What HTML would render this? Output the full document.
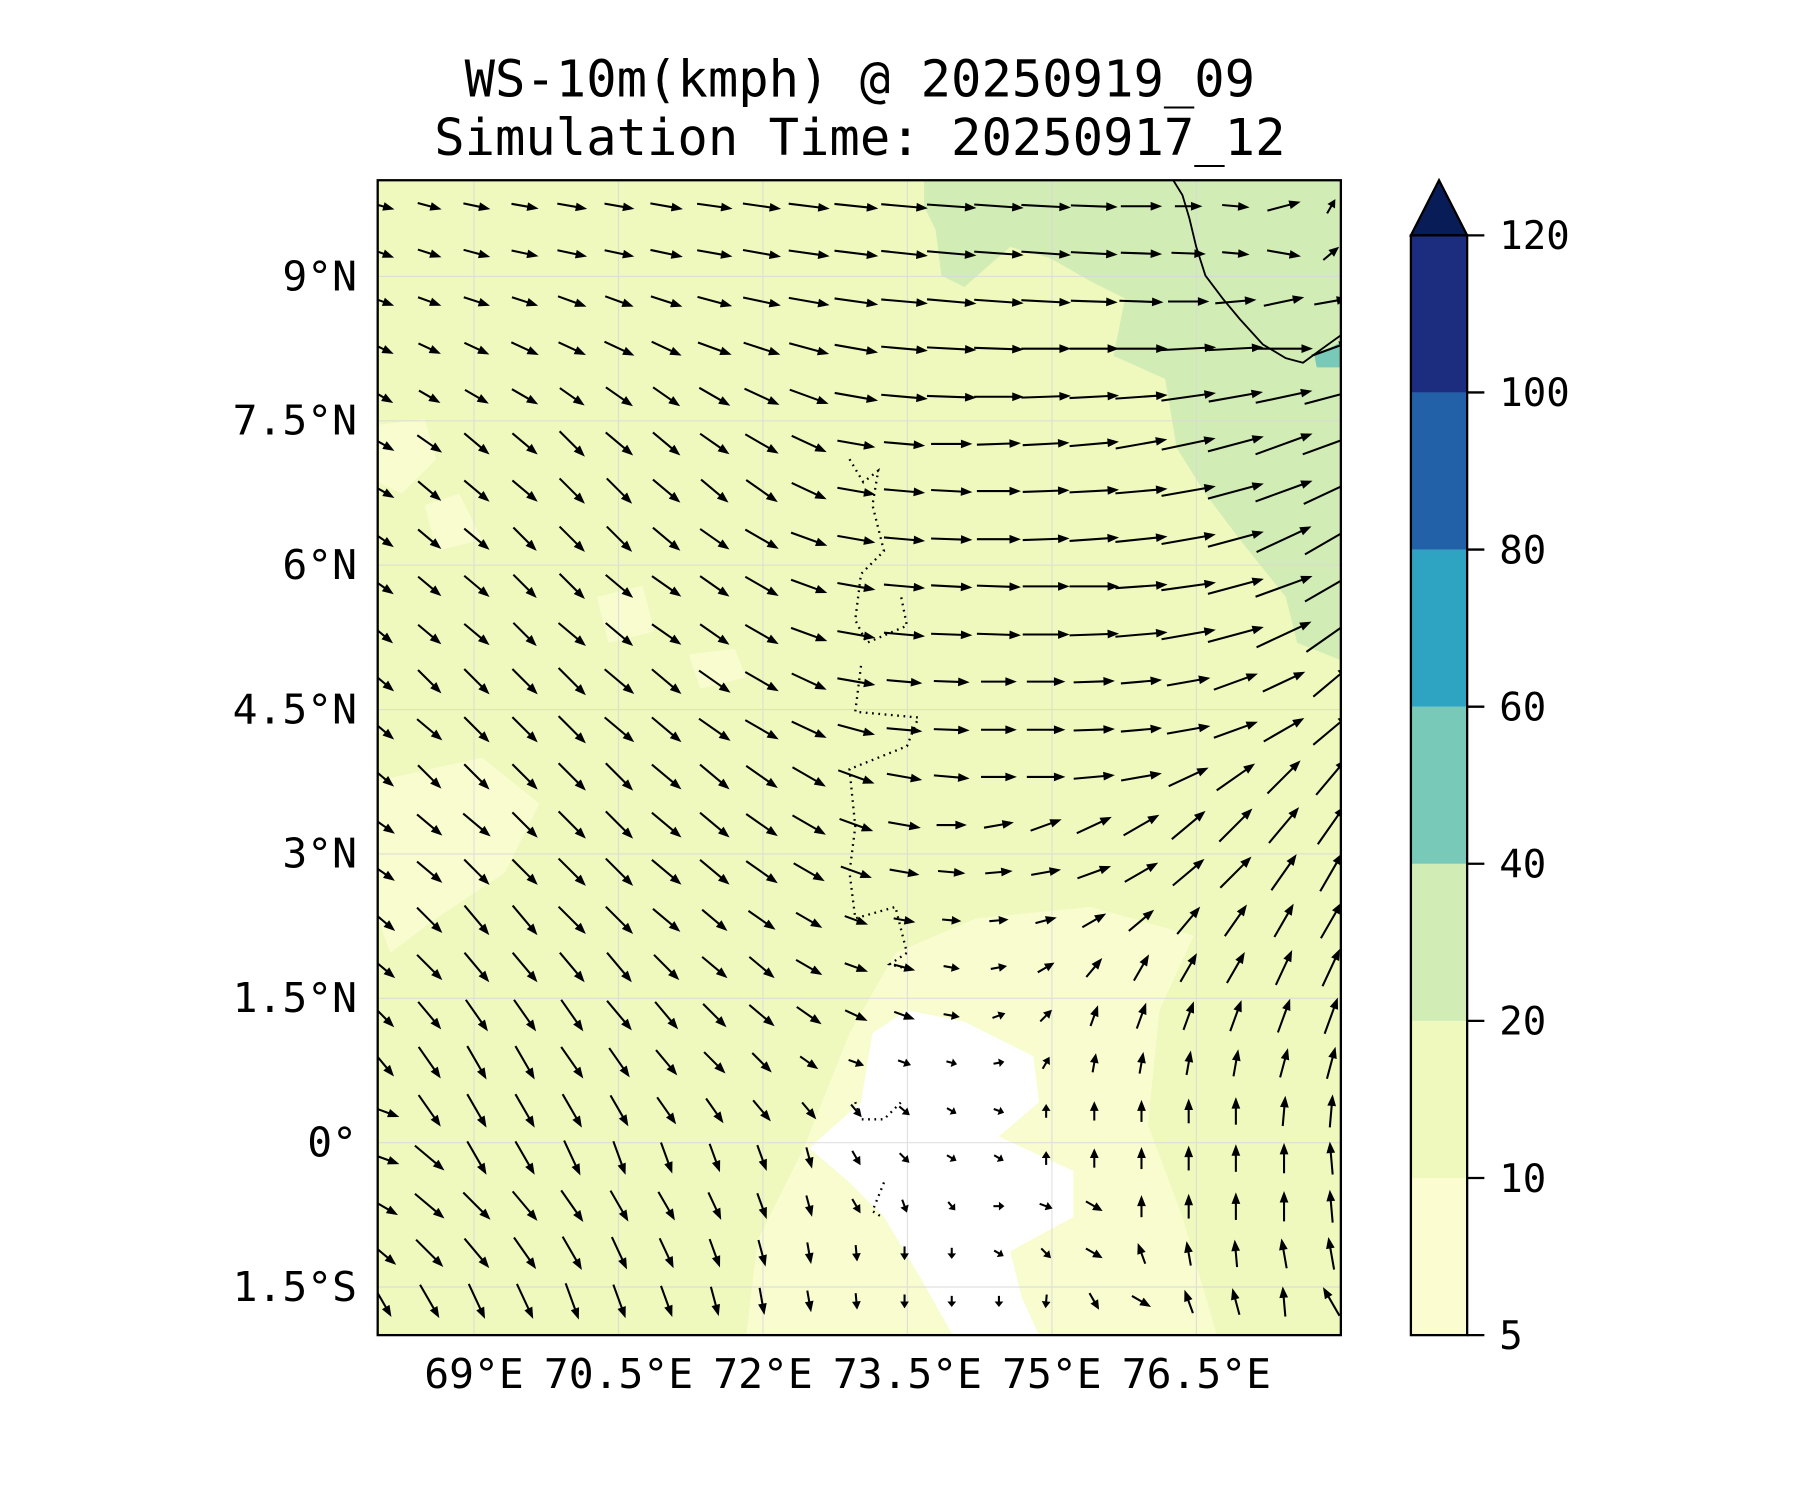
<!DOCTYPE html>
<html><head><meta charset="utf-8">
<style>
html,body{margin:0;padding:0;background:#fff;}
svg{display:block;}
text{font-family:"DejaVu Sans Mono","Liberation Mono",monospace;fill:#000;}
</style></head>
<body>
<svg id="chart" width="1800" height="1500" viewBox="0 0 1800 1500" xmlns="http://www.w3.org/2000/svg">
<g transform="scale(1.148)">
  <text x="749" y="84" font-size="44" text-anchor="middle">WS-10m(kmph) @ 20250919_09</text>
  <text x="749" y="135" font-size="44" text-anchor="middle">Simulation Time: 20250917_12</text>
  <defs><clipPath id="plotclip"><rect x="329" y="157" width="839" height="1006"/></clipPath></defs>
  <g id="plot" clip-path="url(#plotclip)">
    <rect x="329" y="157" width="839" height="1006" fill="#eff8bd"/>
    <path fill="#d2ecb5" d="M805,157 L1168,157 L1168,575 L1130,560 L1120,520 L1080,470 L1050,430 L1025,390 L1015,330 L970,310 L980,260 L950,245 L915,225 L880,215 L840,250 L820,240 L815,200 L805,180 Z"/>
    <path fill="#f8fccf" d="M329,370 L370,365 L380,400 L350,430 L329,420 Z M370,440 L400,430 L420,470 L380,480 Z M329,680 L420,660 L470,700 L440,760 L380,800 L340,830 L329,800 Z M520,520 L560,510 L570,550 L530,560 Z M600,570 L640,565 L650,590 L610,600 Z"/>
    <path fill="#f8fccf" d="M650,1163 L660,1080 L700,1000 L740,900 L780,830 L850,800 L950,790 L1040,815 L1010,880 L1000,980 L1030,1060 L1060,1163 Z"/>
    <path fill="#ffffff" d="M705,1000 L750,960 L760,900 L790,880 L840,890 L900,920 L905,960 L870,990 L935,1020 L935,1060 L880,1090 L890,1130 L905,1163 L830,1163 L800,1110 L770,1060 L740,1030 Z"/>
    <path fill="#79c9b9" d="M1145,310 L1168,298 L1168,320 L1147,320 Z"/>
    <g id="grid" stroke="#d9d9d9" stroke-width="1" opacity="0.8"></g>
    <path fill="none" stroke="#000" stroke-width="1.6" d="M1022,157 L1030,170 L1036,190 L1042,215 L1050,240 L1065,260 L1080,278 L1100,300 L1120,312 L1135,316 L1150,305 L1168,292"/>
    <path fill="none" stroke="#000" stroke-width="2" stroke-dasharray="1.5 4" d="M740,400 L752,420 L765,410 L760,440 L770,480 L750,500 L745,540 L755,560 L790,545 L785,520 M750,580 L745,620 L800,625 L790,650 L740,670 L745,720 L740,760 L745,800 L780,790 L790,830 L775,840 L795,845 M745,960 L750,975 L770,975 L785,960 M770,1030 L760,1055 L768,1060"/>
    <g id="quiver" fill="#000" stroke="#000"></g>
  </g>
  <rect x="329" y="157" width="839" height="1006" fill="none" stroke="#000" stroke-width="2"/>
  <g id="xaxis"></g>
  <g id="yaxis"></g>
  <g id="colorbar"></g>
</g>
</svg>
<script>
const lons = [68.05,68.54,69.03,69.53,70.02,70.51,71.0,71.5,71.99,72.48,72.97,73.47,73.96,74.45,74.94,75.44,75.93,76.42,76.91,77.41,77.9];
const lats = [9.73,9.24,8.74,8.25,7.75,7.26,6.77,6.27,5.78,5.28,4.79,4.29,3.8,3.3,2.81,2.31,1.82,1.32,0.83,0.33,-0.16,-0.66,-1.15,-1.65];
const angleRows = [
[-15,-15,-12,-10,-10,-10,-10,-8,-8,-7,-6,-5,-4,-4,-3,-2,0,0,-5,15,60],
[-20,-18,-15,-12,-12,-12,-12,-10,-10,-8,-7,-6,-5,-4,-4,-3,-2,-2,-5,-10,40],
[-20,-20,-18,-18,-20,-20,-18,-15,-12,-10,-8,-5,-5,-4,-3,-2,-2,0,5,12,10],
[-25,-25,-25,-25,-25,-25,-25,-20,-18,-15,-10,-5,-3,-2,0,0,0,3,3,0,20],
[-30,-30,-30,-30,-35,-35,-35,-30,-25,-20,-10,-5,-2,0,2,3,4,8,10,12,15],
[-30,-35,-40,-40,-45,-40,-40,-35,-30,-25,-10,-5,0,2,3,5,10,12,15,20,20],
[-30,-40,-40,-40,-45,-45,-40,-40,-35,-25,-10,-5,-3,0,2,3,5,10,15,20,25],
[-35,-40,-40,-45,-45,-45,-40,-35,-30,-20,-10,-5,-2,0,2,4,6,10,15,25,30],
[-35,-40,-40,-45,-45,-40,-35,-35,-30,-20,-10,-5,-3,-2,0,0,4,8,15,20,30],
[-40,-40,-40,-45,-40,-40,-35,-35,-30,-20,-10,-5,-2,-2,0,2,5,10,15,25,35],
[-40,-45,-45,-45,-45,-40,-40,-35,-30,-25,-10,-5,-2,0,0,2,5,10,20,25,40],
[-40,-40,-45,-45,-45,-40,-40,-35,-30,-25,-15,-5,-2,0,0,2,5,10,20,30,40],
[-40,-45,-45,-45,-45,-45,-40,-40,-35,-30,-20,-10,-5,0,0,5,10,25,35,45,50],
[-35,-40,-40,-45,-45,-45,-40,-40,-35,-30,-20,-10,0,10,20,25,30,40,45,50,55],
[-35,-40,-45,-45,-45,-45,-40,-40,-35,-30,-20,-10,-5,5,10,20,30,40,45,55,60],
[-40,-45,-50,-50,-45,-45,-40,-40,-35,-30,-20,-10,-5,5,15,30,40,50,55,60,60],
[-40,-45,-50,-50,-50,-50,-45,-40,-40,-30,-20,-15,-10,10,30,50,60,60,60,65,65],
[-45,-50,-55,-55,-55,-50,-50,-45,-40,-35,-25,-20,-10,20,45,70,70,70,70,70,70],
[-50,-55,-60,-60,-55,-55,-50,-45,-45,-35,-20,-20,-15,10,60,80,80,80,80,75,75],
[-20,-55,-60,-60,-60,-60,-55,-55,-50,-50,-50,-40,-30,-20,90,90,90,90,90,85,85],
[-20,-40,-60,-60,-65,-70,-70,-70,-70,-75,-60,-45,-30,-30,90,90,90,90,90,90,95],
[-30,-40,-45,-50,-55,-60,-60,-65,-70,-75,-60,-70,-50,0,-20,-30,90,90,90,90,95],
[-40,-45,-50,-55,-60,-65,-65,-70,-75,-80,-85,-90,-90,-30,-45,-30,110,100,95,100,100],
[-60,-60,-65,-65,-70,-70,-70,-75,-80,-80,-85,-90,-90,-90,-95,-60,-30,110,105,95,120]
];
const speedRows = [
[18,18,20,20,22,22,24,26,28,30,32,34,36,36,36,34,30,20,20,25,12],
[18,18,20,20,22,22,24,26,28,30,32,34,36,36,36,34,30,25,20,25,15],
[18,18,20,20,22,22,24,26,28,30,32,34,36,36,36,34,32,30,30,30,25],
[18,18,20,22,22,24,24,26,28,30,32,34,36,36,36,36,38,40,40,42,30],
[18,18,20,22,22,24,24,26,28,30,32,34,36,36,36,36,38,40,40,42,40],
[20,22,24,24,26,26,26,26,28,28,28,30,30,32,34,36,38,40,42,44,44],
[20,22,24,24,26,26,26,26,28,28,28,30,30,32,34,36,38,40,42,44,44],
[20,22,24,24,26,26,26,26,28,28,28,30,30,32,34,36,38,40,42,44,44],
[20,22,24,24,26,26,26,26,28,28,28,30,30,32,34,36,38,40,42,44,44],
[20,22,24,24,26,26,26,26,28,28,28,30,30,32,34,36,38,40,42,44,44],
[22,24,26,26,28,28,28,28,28,28,28,26,26,26,28,30,30,32,34,34,34],
[22,24,26,26,28,28,28,28,28,28,28,26,26,26,28,30,30,32,34,34,34],
[22,24,26,26,28,28,28,28,28,28,28,26,26,26,28,30,30,32,34,34,34],
[22,24,26,26,28,28,28,28,28,28,26,24,22,22,24,28,30,32,34,34,34],
[22,24,26,26,28,28,28,28,28,26,24,22,20,20,22,26,28,30,32,32,32],
[24,26,28,28,28,28,26,24,24,22,18,16,14,14,16,20,24,26,28,28,30],
[24,26,28,28,28,28,26,24,24,22,18,16,12,12,14,18,22,24,26,28,30],
[24,26,28,28,28,28,26,24,24,22,18,16,12,10,12,16,20,22,24,26,28],
[26,28,28,28,28,26,24,22,20,16,12,10,8,8,10,14,16,18,20,22,24],
[26,28,28,28,28,26,24,22,20,16,12,10,8,8,10,14,16,18,20,22,24],
[26,28,28,28,28,26,24,22,20,16,12,10,8,8,10,14,16,18,20,22,24],
[26,28,28,28,28,26,24,22,20,16,12,10,8,8,10,14,16,18,20,22,24],
[26,28,28,28,28,26,24,22,20,16,12,10,8,8,10,14,16,18,20,22,24],
[26,28,28,28,28,26,24,22,20,16,12,10,8,8,10,14,16,18,20,22,24]
];
const xTicks = [69,70.5,72,73.5,75,76.5];
const xTickLabels = ["69°E","70.5°E","72°E","73.5°E","75°E","76.5°E"];
const yTicks = [9,7.5,6,4.5,3,1.5,0,-1.5];
const yTickLabels = ["9°N","7.5°N","6°N","4.5°N","3°N","1.5°N","0°","1.5°S"];
const cbLevels = [5,10,20,40,60,80,100,120];
const cbColors = ["#fbfdd0","#eff8bd","#d2ecb5","#79c9b9","#2ea3c2","#2260a8","#1c2c7e"];
const cbExtendColor = "#081d58";

const NS = "http://www.w3.org/2000/svg";
const X0=329, X1=1168, Y0=157, Y1=1163;
const LEN_SCALE = 1.2;
function xScale(lon){ return X0 + (lon-68)/10*(X1-X0); }
function yScale(lat){ return Y0 + (10-lat)/12*(Y1-Y0); }
function mk(tag, attrs, parent){ const e=document.createElementNS(NS,tag); for(const k in attrs) e.setAttribute(k,attrs[k]); parent.appendChild(e); return e; }

const grid=document.getElementById('grid');
xTicks.forEach(v=>{ const l=mk('line',{x1:xScale(v),x2:xScale(v),y1:Y0,y2:Y1},grid);

 });
yTicks.forEach(v=>{ const l=mk('line',{x1:X0,x2:X1,y1:yScale(v),y2:yScale(v)},grid);

 });

const q=document.getElementById('quiver');
lats.forEach((lat,i)=>{ lons.forEach((lon,j)=>{
  const a=angleRows[i][j]*Math.PI/180, L=speedRows[i][j]*LEN_SCALE;
  const cx=xScale(lon), cy=yScale(lat);
  const dx=Math.cos(a), dy=-Math.sin(a);
  const tx=cx-dx*L/2, ty=cy-dy*L/2, hx=cx+dx*L/2, hy=cy+dy*L/2;
  const hl=Math.min(10,L*0.5), hw=3.8;
  const bx=hx-dx*hl, by=hy-dy*hl, px=-dy, py=dx;
  const g=mk('g',{},q);
  
  
  mk('line',{x1:tx,y1:ty,x2:bx+dx*1,y2:by+dy*1,'stroke-width':1.8},g);
  mk('polygon',{points:`${hx},${hy} ${bx+px*hw},${by+py*hw} ${bx-px*hw},${by-py*hw}`,stroke:'none'},g);
});});

const xa=document.getElementById('xaxis');
xTicks.forEach((v,i)=>{ const t=mk('text',{x:xScale(v),y:1209,'font-size':36,'text-anchor':'middle'},xa); t.textContent=xTickLabels[i];

 });
const ya=document.getElementById('yaxis');
yTicks.forEach((v,i)=>{ const t=mk('text',{x:311,y:yScale(v)+12,'font-size':36,'text-anchor':'end'},ya); t.textContent=yTickLabels[i];

 });

const cb=document.getElementById('colorbar');
const CX0=1229, CX1=1278, CT=205, CB=1163;
function cbY(i){ return CB - i/(cbLevels.length-1)*(CB-CT); }
cbColors.forEach((c,i)=>{ const r=mk('rect',{x:CX0,y:cbY(i+1),width:CX1-CX0,height:cbY(i)-cbY(i+1),fill:c},cb);

 });
const tri=mk('polygon',{points:`${CX0},${CT} ${(CX0+CX1)/2},157 ${CX1},${CT}`,fill:cbExtendColor,stroke:'#000','stroke-width':2},cb);


const fr=mk('rect',{x:CX0,y:CT,width:CX1-CX0,height:CB-CT,fill:'none',stroke:'#000','stroke-width':2},cb);


cbLevels.forEach((v,i)=>{ const y=cbY(i);
  const tk=mk('line',{x1:CX1,x2:CX1+15,y1:y,y2:y,stroke:'#000','stroke-width':2},cb);
  
  
  const t=mk('text',{x:1306,y:y+12,'font-size':34},cb); t.textContent=String(v);
  
  
});
</script>
</body></html>
